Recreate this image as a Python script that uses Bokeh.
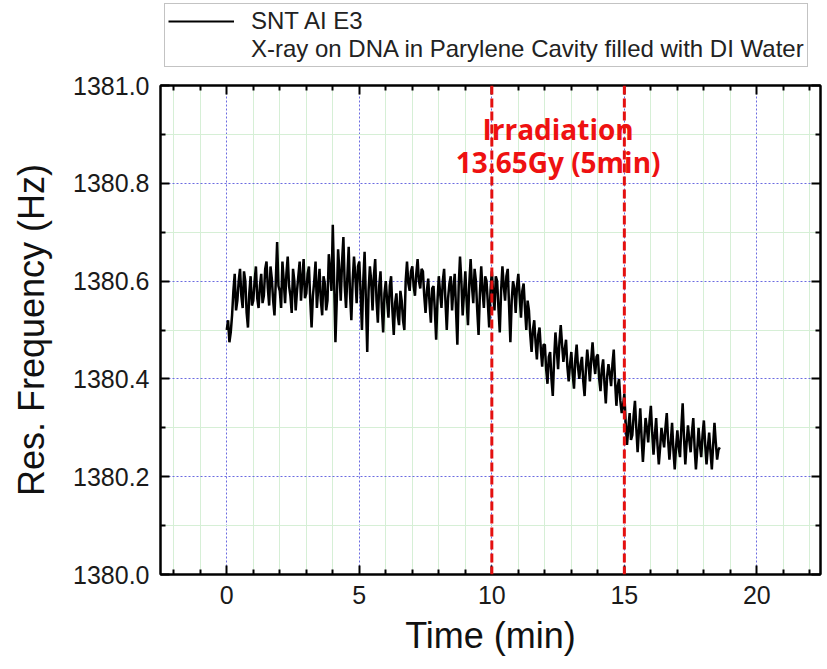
from bokeh.plotting import figure
from bokeh.layouts import column
from bokeh.models import (Span, Legend, LegendItem, FixedTicker, LinearAxis, Label,
                          NumeralTickFormatter)
from bokeh.embed import file_html
from bokeh.resources import INLINE

freq = [
    # 0 - 1 min
    1380.500, 1380.520, 1380.475, 1380.495, 1380.530, 1380.580, 1380.615, 1380.540, 1380.560, 1380.600,
    1380.625, 1380.570, 1380.545, 1380.620, 1380.600, 1380.535, 1380.505, 1380.575, 1380.610, 1380.550,
    # 1 - 2
    1380.560, 1380.600, 1380.630, 1380.565, 1380.545, 1380.590, 1380.615, 1380.555, 1380.570, 1380.625,
    1380.640, 1380.585, 1380.550, 1380.630, 1380.605, 1380.560, 1380.530, 1380.600, 1380.680, 1380.590,
    # 2 - 3
    1380.580, 1380.545, 1380.640, 1380.600, 1380.555, 1380.615, 1380.650, 1380.590, 1380.570, 1380.535,
    1380.625, 1380.600, 1380.540, 1380.580, 1380.610, 1380.640, 1380.560, 1380.605, 1380.645, 1380.565,
    # 3 - 4
    1380.575, 1380.615, 1380.630, 1380.560, 1380.505, 1380.570, 1380.600, 1380.640, 1380.545, 1380.585,
    1380.625, 1380.560, 1380.530, 1380.610, 1380.595, 1380.540, 1380.560, 1380.655, 1380.620, 1380.580,
    # 4 - 5
    1380.715, 1380.600, 1380.475, 1380.560, 1380.665, 1380.620, 1380.560, 1380.640, 1380.690, 1380.590,
    1380.545, 1380.610, 1380.670, 1380.575, 1380.520, 1380.600, 1380.650, 1380.610, 1380.555, 1380.630,
    # 5 - 6
    1380.640, 1380.575, 1380.500, 1380.600, 1380.660, 1380.560, 1380.455, 1380.580, 1380.630, 1380.600,
    1380.540, 1380.610, 1380.645, 1380.560, 1380.515, 1380.590, 1380.620, 1380.545, 1380.495, 1380.575,
    # 6 - 7
    1380.600, 1380.560, 1380.525, 1380.590, 1380.610, 1380.540, 1380.490, 1380.555, 1380.575, 1380.530,
    1380.510, 1380.580, 1380.560, 1380.520, 1380.500, 1380.600, 1380.640, 1380.595, 1380.580, 1380.620,
    # 7 - 8
    1380.630, 1380.590, 1380.570, 1380.615, 1380.645, 1380.600, 1380.585, 1380.625, 1380.620, 1380.570,
    1380.535, 1380.580, 1380.605, 1380.555, 1380.515, 1380.585, 1380.590, 1380.540, 1380.480, 1380.560,
    # 8 - 9
    1380.610, 1380.575, 1380.545, 1380.600, 1380.625, 1380.560, 1380.500, 1380.565, 1380.595, 1380.610,
    1380.540, 1380.585, 1380.615, 1380.540, 1380.470, 1380.590, 1380.650, 1380.600, 1380.530, 1380.575,
    # 9 - 10
    1380.620, 1380.560, 1380.510, 1380.595, 1380.645, 1380.590, 1380.555, 1380.625, 1380.600, 1380.540,
    1380.490, 1380.575, 1380.630, 1380.580, 1380.545, 1380.610, 1380.600, 1380.555, 1380.505, 1380.580,
    # 10 - 11
    1380.620, 1380.575, 1380.540, 1380.610, 1380.600, 1380.545, 1380.495, 1380.580, 1380.630, 1380.590,
    1380.560, 1380.610, 1380.625, 1380.550, 1380.475, 1380.560, 1380.600, 1380.585, 1380.535, 1380.590,
    # 11 - 12
    1380.615, 1380.570, 1380.525, 1380.580, 1380.595, 1380.545, 1380.500, 1380.560, 1380.540, 1380.490,
    1380.455, 1380.500, 1380.520, 1380.475, 1380.440, 1380.490, 1380.505, 1380.460, 1380.425, 1380.470,
    # 12 - 13
    1380.470, 1380.420, 1380.390, 1380.445, 1380.455, 1380.400, 1380.365, 1380.440, 1380.495, 1380.460,
    1380.420, 1380.475, 1380.510, 1380.470, 1380.435, 1380.460, 1380.480, 1380.425, 1380.395, 1380.430,
    # 13 - 14
    1380.455, 1380.410, 1380.380, 1380.440, 1380.470, 1380.425, 1380.400, 1380.430, 1380.445, 1380.395,
    1380.365, 1380.420, 1380.460, 1380.430, 1380.395, 1380.440, 1380.475, 1380.435, 1380.410, 1380.445,
    # 14 - 15
    1380.450, 1380.400, 1380.375, 1380.420, 1380.440, 1380.390, 1380.350, 1380.405, 1380.430, 1380.410,
    1380.385, 1380.430, 1380.460, 1380.395, 1380.345, 1380.385, 1380.400, 1380.355, 1380.330, 1380.345,
    # 15 - 16
    1380.370, 1380.310, 1380.265, 1380.300, 1380.330, 1380.275, 1380.285, 1380.325, 1380.355, 1380.300,
    1380.250, 1380.295, 1380.340, 1380.280, 1380.230, 1380.275, 1380.320, 1380.300, 1380.270, 1380.315,
    # 16 - 17
    1380.345, 1380.290, 1380.245, 1380.285, 1380.320, 1380.265, 1380.225, 1380.260, 1380.300, 1380.280,
    1380.260, 1380.300, 1380.330, 1380.275, 1380.235, 1380.270, 1380.310, 1380.255, 1380.215, 1380.260,
    # 17 - 18
    1380.295, 1380.260, 1380.240, 1380.300, 1380.350, 1380.280, 1380.225, 1380.270, 1380.305, 1380.275,
    1380.250, 1380.290, 1380.320, 1380.260, 1380.215, 1380.255, 1380.300, 1380.265, 1380.240, 1380.285,
    # 18 - 18.6
    1380.315, 1380.265, 1380.225, 1380.260, 1380.290, 1380.250, 1380.215, 1380.265, 1380.310, 1380.270,
    1380.235, 1380.255, 1380.260,
]
time_step = 0.05  # min, sampling interval
time = [round(i * time_step, 3) for i in range(len(freq))]

x_major = [0, 5, 10, 15, 20]
x_minor = [-2, -1, 1, 2, 3, 4, 6, 7, 8, 9, 11, 12, 13, 14, 16, 17, 18, 19, 21, 22]
y_major = [1380.0, 1380.2, 1380.4, 1380.6, 1380.8, 1381.0]
y_minor = [1380.1, 1380.3, 1380.5, 1380.7, 1380.9]
irradiation = [10, 15]
series_label = "SNT AI E3"
note_label = "X-ray on DNA in Parylene Cavity filled with DI Water"
annot_lines = ["Irradiation", "13.65Gy (5min)"]
annot_x = 12.5
annot_y = [1380.911, 1380.843]

FONT = "Liberation Sans"
W = 827
LEG_H = 69

# ---------------- legend strip (above the plot) ----------------
lf = figure(width=W, height=LEG_H, x_range=(0, 1), y_range=(0, 1),
            x_axis_type=None, y_axis_type=None, output_backend="svg",
            toolbar_location=None, min_border=0, outline_line_color=None,
            background_fill_color="white", border_fill_color="white")
lf.xgrid.visible = False
lf.ygrid.visible = False
nan = float("nan")
lr1 = lf.line([nan], [nan], line_color="black", line_width=2)
lr2 = lf.line([nan], [nan], line_color="white", line_alpha=0)
legend = Legend(items=[LegendItem(label=series_label, renderers=[lr1]),
                       LegendItem(label=note_label, renderers=[lr2])],
                location=(4, 2), orientation="vertical",
                label_text_font=FONT, label_text_font_size="24px",
                label_text_color="#222222", glyph_width=66, glyph_height=22,
                label_height=22, label_standoff=17, spacing=-5, padding=3, margin=0,
                border_line_color="#888888", border_line_width=1,
                background_fill_color="white", background_fill_alpha=1.0)
lf.add_layout(legend)

# ---------------- main plot ----------------
p = figure(frame_width=660, frame_height=489,
           x_range=(-2.5, 22.4), y_range=(1380.0, 1381.0),
           output_backend="svg", toolbar_location=None,
           min_border_left=160, min_border_right=7,
           min_border_top=16, min_border_bottom=95,
           background_fill_color="white", border_fill_color="white")
p.outline_line_color = "black"
p.outline_line_width = 2

xt = FixedTicker(ticks=x_major, minor_ticks=x_minor)
yt = FixedTicker(ticks=y_major, minor_ticks=y_minor)

p.xaxis.ticker = xt
p.yaxis.ticker = yt
p.yaxis.formatter = NumeralTickFormatter(format="0.0")

for ax in (p.xaxis[0], p.yaxis[0]):
    ax.axis_line_width = 2
    ax.major_tick_in = 9
    ax.major_tick_out = 0
    ax.minor_tick_in = 5
    ax.minor_tick_out = 0
    ax.major_tick_line_width = 2
    ax.minor_tick_line_width = 2
    ax.major_label_text_font = FONT
    ax.major_label_text_font_size = "25px"
    ax.major_label_text_color = "#1a1a1a"
    ax.major_label_standoff = 11
    ax.axis_label_text_font = FONT
    ax.axis_label_text_font_size = "36px"
    ax.axis_label_text_font_style = "normal"
    ax.axis_label_text_color = "#111111"

p.xaxis.axis_label = "Time (min)"
p.yaxis.axis_label = "Res. Frequency (Hz)"
p.xaxis.axis_label_standoff = 8
p.yaxis.axis_label_standoff = 18

# mirror axes (ticks only, no labels)
top_axis = LinearAxis(ticker=xt, axis_line_width=2, major_tick_in=9, major_tick_out=0,
                      minor_tick_in=5, minor_tick_out=0, major_tick_line_width=2,
                      minor_tick_line_width=2, major_label_standoff=0,
                      major_label_overrides={t: "" for t in x_major})
right_axis = LinearAxis(ticker=yt, axis_line_width=2, major_tick_in=9, major_tick_out=0,
                        minor_tick_in=5, minor_tick_out=0, major_tick_line_width=2,
                        minor_tick_line_width=2, major_label_standoff=0,
                        major_label_overrides={t: "" for t in y_major})
p.add_layout(top_axis, "above")
p.add_layout(right_axis, "right")

for g, tk in ((p.xgrid[0], xt), (p.ygrid[0], yt)):
    g.ticker = tk
    g.grid_line_color = "#6b6be0"
    g.grid_line_dash = "2 2"
    g.grid_line_width = 1
    g.minor_grid_line_color = "#d6efd6"
    g.minor_grid_line_width = 1

for xv in irradiation:
    p.add_layout(Span(location=xv, dimension="height", line_color="#e41010",
                      line_dash="9 4", line_width=3))

p.line(time, freq, line_color="black", line_width=2.5)

for txt, yv in zip(annot_lines, annot_y):
    p.add_layout(Label(x=annot_x, y=yv, text=txt, text_align="center",
                       text_baseline="alphabetic", text_font="Open Sans",
                       text_font_style="bold", text_font_size="28px",
                       text_color="#ee1111"))

layout = column(lf, p, spacing=0)
open("out.html", "w").write(file_html(layout, INLINE))
